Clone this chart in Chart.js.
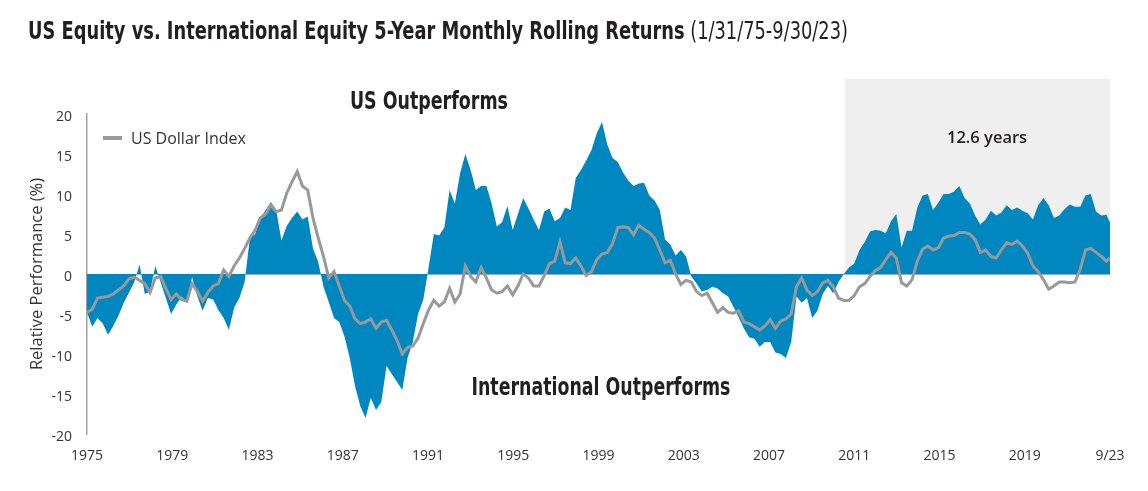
<!DOCTYPE html>
<html>
<head>
<meta charset="utf-8">
<script src="https://cdn.jsdelivr.net/npm/chart.js@4.4.0/dist/chart.umd.min.js"></script>
<style>
  html, body { margin: 0; padding: 0; background: #ffffff; }
  #wrap { position: relative; width: 1148px; height: 491px; overflow: hidden; }
  #c { position: absolute; left: 0; top: 0; }
  #title {
    position: absolute; left: 28px; top: 19px;
    font-family: "Liberation Sans Narrow", "DejaVu Sans Condensed", "Roboto", sans-serif;
    font-stretch: condensed;
    font-size: 24px; line-height: 24px; color: #231f20; white-space: nowrap;
    transform-origin: 0 0;
  }
  #title b { font-weight: 700; }
</style>
</head>
<body>
<div id="wrap">
  <canvas id="c" width="1148" height="491"></canvas>
  <div id="title"><b>US Equity vs. International Equity 5-Year Monthly Rolling Returns</b> (1/31/75-9/30/23)</div>
</div>
<script>
// ---------------- DATA ----------------
// X axis: months since Jan 1975 (quarterly readings, last point = Sep 2023)
const firstMonth = 0;
const lastMonth = 584;
const months = [];
for (let m = firstMonth; m < lastMonth - 1; m += 3) months.push(m);
months.push(lastMonth);

// Tick labels (evenly spread across the axis, as in the original)
const tickLabels = ['1975','1979','1983','1987','1991','1995','1999','2003','2007','2011','2015','2019','9/23'];

// US equity minus international equity, 5-year rolling return (%)
const relativePerformance = [
  -4.8, -6.6, -5.5, -6.2,   // 1975
  -7.6, -6.5, -5.2, -3.6,   // 1976
  -2.3, -1.0,  1.2, -2.5,   // 1977
  -2.2,  1.0, -1.0, -3.0,   // 1978
  -5.0, -3.8, -2.8, -3.6,   // 1979
  -0.4, -2.8, -4.6, -3.0,   // 1980
  -3.2, -4.5, -5.5, -7.0,   // 1981
  -4.2, -3.0, -1.0,  4.5,   // 1982
   5.0,  7.0,  8.0,  9.0,   // 1983
   8.0,  4.2,  6.0,  7.0,   // 1984
   7.8,  6.8,  7.2,  3.2,   // 1985
   1.5, -1.6, -3.5, -5.5,   // 1986
  -6.0, -7.8, -10.5, -14.0, // 1987
  -16.5, -18.0, -15.5, -17.0, // 1988
  -16.0, -11.5, -12.5, -13.5, // 1989
  -14.5, -10.5, -8.5, -5.0, // 1990
  -3.2,  0.8,  5.0,  4.8,   // 1991
   5.8, 10.5,  8.8, 12.6,   // 1992
  15.0, 13.0, 10.5, 11.0,   // 1993
  11.0,  8.8,  5.9,  6.5,   // 1994
   8.5,  5.5,  7.5,  9.5,   // 1995
   8.2,  6.8,  5.5,  7.8,   // 1996
   8.2,  6.6,  7.0,  8.3,   // 1997
   8.0, 12.0, 13.0, 14.2,   // 1998
  15.5, 17.6, 19.0, 16.2,   // 1999
  14.5, 14.0, 12.7, 11.7,   // 2000
  11.0, 11.3, 11.4,  9.8,   // 2001
   9.2,  8.0,  4.3,  3.7,   // 2002
   2.3,  3.0,  2.2, -0.3,   // 2003
  -1.2, -2.2, -2.0, -1.6,   // 2004
  -1.8, -2.4, -2.8, -4.1,   // 2005
  -5.4, -6.8, -7.9, -8.1,   // 2006
  -9.1, -8.5, -8.5, -9.8,   // 2007
  -10.0, -10.5, -8.5, -2.8, // 2008
  -3.6, -3.0, -5.5, -4.6,   // 2009
  -2.5, -1.5, -2.4, -1.0,   // 2010
   0.0,  0.8,  1.3,  3.0,   // 2011
   4.0,  5.3,  5.5,  5.4,   // 2012
   5.1,  6.6,  7.5,  3.3,   // 2013
   5.4,  5.4,  8.3,  9.8,   // 2014
  10.0,  8.0,  8.9, 10.0,   // 2015
  10.0, 10.3, 11.0,  9.5,   // 2016
   8.8,  7.3,  6.2,  6.8,   // 2017
   7.9,  7.3,  7.7,  8.6,   // 2018
   8.0,  8.3,  7.9,  7.6,   // 2019
   6.8,  8.6,  9.5,  8.6,   // 2020
   7.0,  7.3,  8.1,  8.7,   // 2021
   8.4,  8.4,  9.8, 10.0,   // 2022
   7.8,  7.3,  7.4,  6.4    // 2023 (last = Sep)
];

// US Dollar Index
const usDollarIndex = [
  -4.8, -4.4, -3.0, -2.9,   // 1975
  -2.8, -2.5, -2.0, -1.5,   // 1976
  -0.6, -0.4, -0.8, -1.2,   // 1977
  -2.3, -0.5, -0.3, -1.8,   // 1978
  -3.2, -2.5, -3.2, -3.4,   // 1979
  -1.2, -2.2, -3.4, -2.3,   // 1980
  -1.5, -1.2,  0.5, -0.3,   // 1981
   1.0,  2.0,  3.2,  4.5,   // 1982
   5.5,  7.0,  7.5,  8.6,   // 1983
   7.8,  8.0, 10.1, 11.5,   // 1984
  12.8, 11.0, 10.5,  7.0,   // 1985
   4.5,  2.2, -0.5,  0.3,   // 1986
  -1.5, -3.3, -4.0, -5.6,   // 1987
  -6.2, -6.0, -5.6, -6.8,   // 1988
  -6.0, -5.8, -7.0, -8.3,   // 1989
  -10.0, -9.2, -9.0, -8.0,  // 1990
  -6.2, -4.5, -3.3, -4.0,   // 1991
  -3.5, -1.8, -3.5, -2.5,   // 1992
   1.0, -0.3, -1.0,  0.8,   // 1993
  -0.5, -2.0, -2.4, -2.2,   // 1994
  -1.5, -2.6, -1.5,  0.0,   // 1995
  -0.5, -1.5, -1.5, -0.2,   // 1996
   1.3,  1.6,  4.0,  1.4,   // 1997
   1.3,  2.0,  1.0, -0.2,   // 1998
   0.3,  1.8,  2.5,  2.7,   // 1999
   3.8,  5.8,  5.9,  5.8,   // 2000
   4.9,  6.1,  5.6,  5.2,   // 2001
   4.5,  3.0,  1.4,  1.7,   // 2002
   0.0, -1.3, -0.8, -1.0,   // 2003
  -2.2, -2.7, -2.4, -3.6,   // 2004
  -4.8, -4.2, -4.8, -4.9,   // 2005
  -4.6, -6.0, -6.2, -6.6,   // 2006
  -7.0, -6.5, -5.7, -6.8,   // 2007
  -5.9, -5.6, -5.0, -1.6,   // 2008
  -0.5, -2.0, -2.7, -2.2,   // 2009
  -1.1, -0.8, -1.6, -3.0,   // 2010
  -3.3, -3.3, -2.7, -1.6,   // 2011
  -1.2, -0.3,  0.4,  0.8,   // 2012
   1.8,  2.7,  2.0, -1.1,   // 2013
  -1.5, -0.7,  1.6,  3.1,   // 2014
   3.5,  3.0,  3.3,  4.5,   // 2015
   4.75, 4.8,  5.2,  5.2,   // 2016
   5.0,  4.3,  2.7,  3.0,   // 2017
   2.2,  2.0,  3.0,  3.9,   // 2018
   3.7,  4.1,  3.5,  2.6,   // 2019
   1.0,  0.3, -0.7, -1.9,   // 2020
  -1.5, -1.0, -1.0, -1.1,   // 2021
  -1.0,  0.6,  3.0,  3.2,   // 2022
   2.7,  2.2,  1.6,  2.0    // 2023 (last = Sep)
];

const shadedYears = 12.6;          // highlighted most recent period
const yTicks = { min: -20, max: 20, step: 5 };

// ---------------- STYLE ----------------
const BLUE = '#0087bf';
const GREY_LINE = '#999999';
const TEXT = '#231f20';
const CONDENSED = '"Liberation Sans Narrow", "DejaVu Sans Condensed", "Roboto", sans-serif';
const SANS = '"Open Sans", "Noto Sans", sans-serif';

// fit title to its width in the original
(function fitTitle() {
  const t = document.getElementById('title');
  const w = t.getBoundingClientRect().width;
  const target = 820;
  t.style.transform = 'scaleX(' + (target / w) + ')';
})();

function fittedText(ctx, text, cx, cy, font, targetWidth) {
  ctx.save();
  ctx.font = font;
  const w = ctx.measureText(text).width;
  ctx.translate(cx, cy);
  ctx.scale(targetWidth / w, 1);
  ctx.textAlign = 'center';
  ctx.textBaseline = 'middle';
  ctx.fillStyle = TEXT;
  ctx.fillText(text, 0, 0);
  ctx.restore();
}

const annotationPlugin = {
  id: 'annotations',
  beforeDatasetsDraw(chart) {
    const { ctx, chartArea, scales: { x, y } } = chart;
    const x0 = x.getPixelForValue(lastMonth - shadedYears * 12);
    const yTop = y.getPixelForValue(24.4);
    const yZero = y.getPixelForValue(0);
    ctx.save();
    ctx.fillStyle = '#efefef';
    ctx.fillRect(x0, yTop, chartArea.right - x0, yZero - yTop);
    ctx.restore();
  },
  afterDatasetsDraw(chart) {
    const { ctx, chartArea, scales: { x, y } } = chart;
    // region labels
    fittedText(ctx, 'US Outperforms', x.getPixelForValue(195.2), y.getPixelForValue(21.4),
      'bold 25px ' + CONDENSED, 158);
    fittedText(ctx, 'International Outperforms', x.getPixelForValue(293.4), y.getPixelForValue(-14.3),
      'bold 25px ' + CONDENSED, 259);
    // period label
    ctx.save();
    ctx.font = '600 16.5px ' + SANS;
    ctx.fillStyle = TEXT;
    ctx.textAlign = 'center';
    ctx.textBaseline = 'middle';
    ctx.fillText(shadedYears.toFixed(1) + ' years', x.getPixelForValue(513.8), y.getPixelForValue(17.0));
    // legend
    const ly = y.getPixelForValue(17.0);
    const lx = chartArea.left + 16;
    ctx.strokeStyle = GREY_LINE;
    ctx.lineWidth = 4;
    ctx.beginPath();
    ctx.moveTo(lx, ly);
    ctx.lineTo(lx + 19, ly);
    ctx.stroke();
    ctx.font = '16px ' + SANS;
    ctx.textAlign = 'left';
    ctx.fillStyle = '#333333';
    ctx.fillText('US Dollar Index', lx + 28, ly + 1);
    ctx.restore();
  }
};

new Chart(document.getElementById('c'), {
  type: 'line',
  data: {
    datasets: [
      {
        label: 'US Dollar Index',
        data: months.map((m, i) => ({ x: m, y: usDollarIndex[i] })),
        borderColor: GREY_LINE,
        borderWidth: 3,
        pointRadius: 0,
        fill: false,
        tension: 0,
        order: 1
      },
      {
        label: 'US vs. International Equity',
        data: months.map((m, i) => ({ x: m, y: relativePerformance[i] })),
        borderWidth: 0,
        borderColor: BLUE,
        backgroundColor: BLUE,
        pointRadius: 0,
        fill: 'origin',
        tension: 0,
        order: 2
      }
    ]
  },
  options: {
    responsive: false,
    animation: false,
    events: [],
    layout: { padding: { top: 114, right: 38, bottom: 0, left: 0 } },
    plugins: { legend: { display: false }, tooltip: { enabled: false }, title: { display: false } },
    scales: {
      x: {
        type: 'linear',
        min: firstMonth,
        max: lastMonth,
        afterFit(scale) { scale.height = 57; },
        afterBuildTicks(scale) {
          scale.ticks = tickLabels.map((_, k) => ({ value: firstMonth + k * (lastMonth - firstMonth) / (tickLabels.length - 1) }));
        },
        ticks: {
          autoSkip: false,
          maxRotation: 0,
          padding: 6,
          color: '#333333',
          font: { family: SANS, size: 14 },
          callback: (v, i) => tickLabels[i]
        },
        grid: { display: false },
        border: { display: false }
      },
      y: {
        min: yTicks.min,
        max: yTicks.max,
        afterFit(scale) { scale.width = 87; },
        ticks: {
          stepSize: yTicks.step,
          padding: 15,
          labelOffset: 3,
          color: '#333333',
          font: { family: SANS, size: 14 }
        },
        grid: {
          drawTicks: false,
          color: (c) => (c.tick && c.tick.value === 0 ? '#8fb0c6' : 'rgba(0,0,0,0)'),
          lineWidth: 1
        },
        border: { display: true, color: '#a0a0a0', width: 1.5 },
        title: {
          display: true,
          text: 'Relative Performance (%)',
          color: '#333333',
          font: { family: SANS, size: 16.5 },
          padding: { top: 27, bottom: 0 }
        }
      }
    }
  },
  plugins: [annotationPlugin]
});
</script>
</body>
</html>
